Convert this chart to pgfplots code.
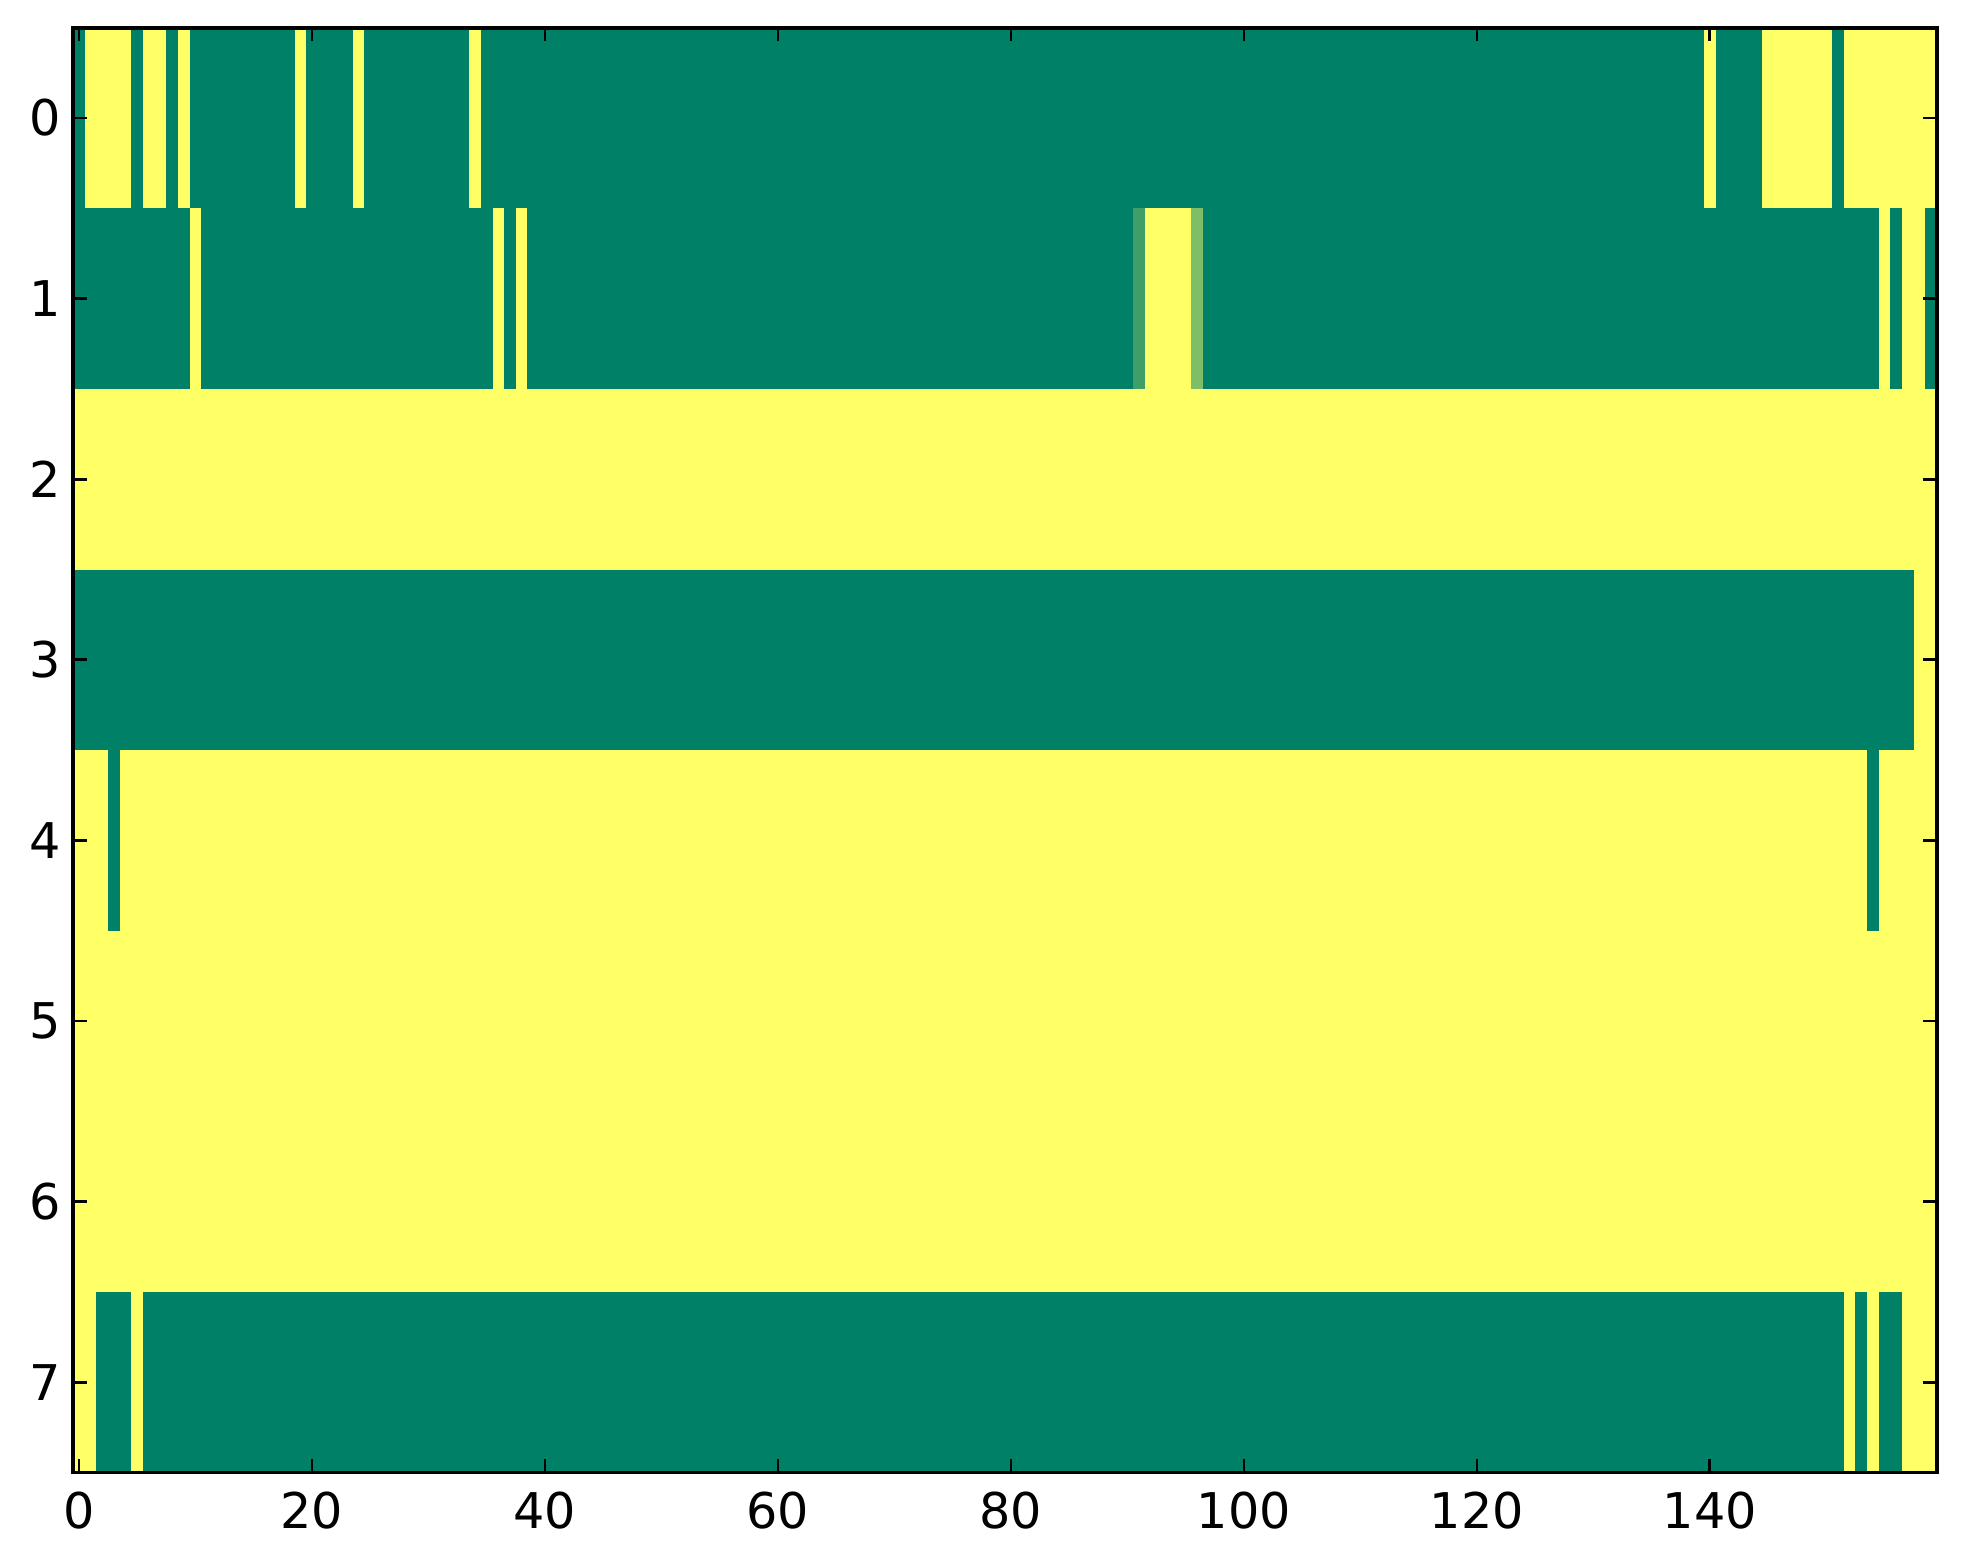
\documentclass[border=0pt]{standalone}
\usepackage{pgfplots}
\pgfplotsset{compat=1.18}
\usepackage{fontspec}
\setmainfont{DejaVu Sans}

\definecolor{summerG}{rgb}{0,0.5,0.4}
\definecolor{summerY}{rgb}{1,1,0.4}
\definecolor{summerA}{rgb}{0.25,0.625,0.4}
\definecolor{summerB}{rgb}{0.49,0.745,0.4}

% one run of equal cells: x from #2 to #3, y from #4 to #5, colour #1
\newcommand\run[5]{\addplot[fill=#1, draw=none, no markers] coordinates {(#2,#4) (#3,#4) (#3,#5) (#2,#5)} -- cycle;}

\begin{document}
\begin{tikzpicture}
\begin{axis}[
name=ax,
width=545pt, height=422.5pt, scale only axis,
xmin=-0.5, xmax=159.5, ymin=-0.5, ymax=7.5,
y dir=reverse,
axis on top,
xtick={0,20,...,140}, ytick={0,1,...,7},
axis background/.style={fill=summerY},
axis line style={line width=1.1pt},
major tick length=4pt,
tick style={black, line width=0.8pt},
/pgf/number format/assume math mode=true,
tick label style={font=\fontsize{14.4}{17}\selectfont},
xticklabel style={yshift=-2pt},
]
% row 0
\run{summerG}{-0.5}{0.5}{-0.5}{0.5}
\run{summerG}{4.5}{5.5}{-0.5}{0.5}
\run{summerG}{7.5}{8.5}{-0.5}{0.5}
\run{summerG}{9.5}{18.5}{-0.5}{0.5}
\run{summerG}{19.5}{23.5}{-0.5}{0.5}
\run{summerG}{24.5}{33.5}{-0.5}{0.5}
\run{summerG}{34.5}{139.5}{-0.5}{0.5}
\run{summerG}{140.5}{144.5}{-0.5}{0.5}
\run{summerG}{150.5}{151.5}{-0.5}{0.5}
% row 1
\run{summerG}{-0.5}{9.5}{0.5}{1.5}
\run{summerG}{10.5}{35.5}{0.5}{1.5}
\run{summerG}{36.5}{37.5}{0.5}{1.5}
\run{summerG}{38.5}{90.5}{0.5}{1.5}
\run{summerA}{90.5}{91.5}{0.5}{1.5}
\run{summerB}{95.5}{96.5}{0.5}{1.5}
\run{summerG}{96.5}{154.5}{0.5}{1.5}
\run{summerG}{155.5}{156.5}{0.5}{1.5}
\run{summerG}{158.5}{159.5}{0.5}{1.5}
% row 3
\run{summerG}{-0.5}{157.5}{2.5}{3.5}
% row 4
\run{summerG}{2.5}{3.5}{3.5}{4.5}
\run{summerG}{153.5}{154.5}{3.5}{4.5}
% row 7
\run{summerG}{1.5}{4.5}{6.5}{7.5}
\run{summerG}{5.5}{151.5}{6.5}{7.5}
\run{summerG}{152.5}{153.5}{6.5}{7.5}
\run{summerG}{154.5}{156.5}{6.5}{7.5}
\end{axis}
\path ([xshift=-21.4pt,yshift=-26.5pt]ax.south west) rectangle ([xshift=7.6pt,yshift=8.1pt]ax.north east);
\end{tikzpicture}
\end{document}
